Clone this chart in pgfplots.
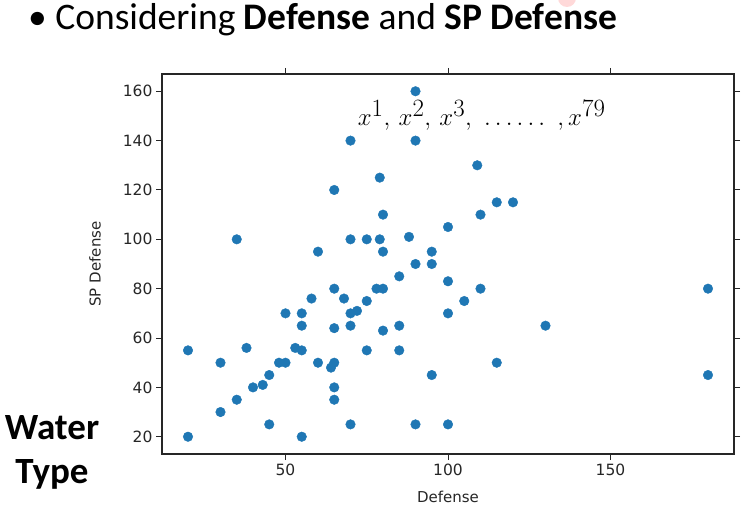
\documentclass[border=0pt]{standalone}
\usepackage{fontspec}
\setmainfont{Carlito}
\newfontfamily\dejavu{DejaVu Sans}
\usepackage{pgfplots}
\pgfplotsset{compat=1.18}
\definecolor{mplblue}{HTML}{1F77B4}
\pgfplotstableread{
x y
90 160
70 140
90 140
79 125
65 120
80 110
100 105
35 100
70 100
75 100
79 100
88 101
60 95
80 95
95 95
90 90
95 90
85 85
100 83
65 80
78 80
80 80
58 76
68 76
75 75
50 70
55 70
70 70
72 71
55 65
65 64
70 65
80 63
85 65
100 70
105 75
20 55
38 56
53 56
55 55
75 55
85 55
30 50
48 50
50 50
60 50
64 48
65 50
45 45
95 45
40 40
43 41
65 40
35 35
65 35
30 30
45 25
70 25
90 25
100 25
20 20
55 20
109 130
115 115
120 115
110 110
110 80
130 65
115 50
180 80
180 45
}\pts
\begin{document}
\begin{tikzpicture}[x=1pt,y=1pt]
\path[use as bounding box] (-162,-52) rectangle (584,454);
\begin{axis}[
  at={(0,0)}, anchor=south west,
  scale only axis, width=572pt, height=380pt,
  xmin=12, xmax=188, ymin=13, ymax=167,
  xtick={50,100,150}, ytick={20,40,...,160},
  tick align=outside, tick pos=both,
  xticklabel pos=lower, yticklabel pos=left,
  major tick length=6pt,
  every tick/.style={black!85, line width=1pt},
  axis line style={line width=1.2pt, black!85},
  /pgf/number format/assume math mode=true,
  tick label style={font=\dejavu\fontsize{15.5}{18}\selectfont, text=black!85},
  xlabel={Defense}, ylabel={SP Defense},
  label style={font=\dejavu\fontsize{15}{18}\selectfont, text=black!85, inner sep=0pt},
  xlabel style={at={(axis description cs:0.5,-0.097)}, anchor=north},
  ylabel style={at={(axis description cs:-0.117,0.5)}, anchor=center},
  clip=false,
]
\addplot[only marks, mark=*, mark size=4.8pt, color=mplblue, mark options={draw=mplblue, fill=mplblue}] table {\pts};
\node[anchor=base west, inner sep=0pt, font=\fontsize{35}{42}\selectfont] at (axis cs:72.2,146.2) {$x^{1},\, x^{2},\, x^{3},\ \ldots\ldots\ ,x^{79}$};
\end{axis}
\fill[red!50, opacity=0.3] (405,456) circle (9);
\node[anchor=base west, inner sep=0pt, font=\fontsize{37.5}{44}\selectfont] at (-134,424) {\textbullet\ Considering \textbf{Defense} and \textbf{SP Defense}};
\node[anchor=base, inner sep=0pt, font=\fontsize{37}{44}\selectfont\bfseries] at (-110,15) {Water};
\node[anchor=base, inner sep=0pt, font=\fontsize{37}{44}\selectfont\bfseries] at (-110,-29) {Type};
\end{tikzpicture}
\end{document}
